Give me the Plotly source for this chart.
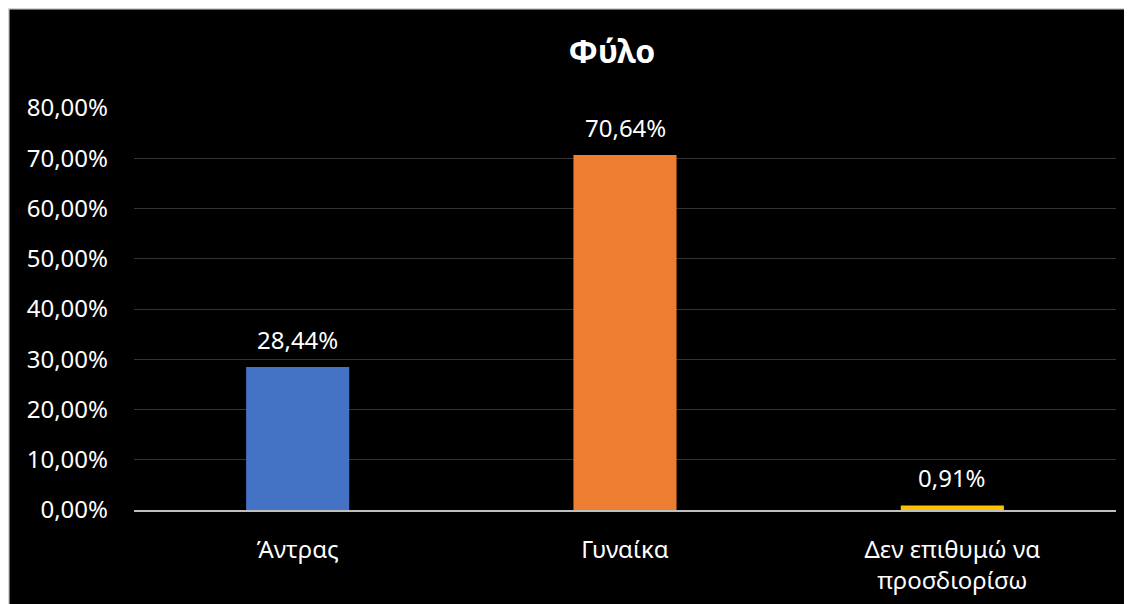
import plotly.graph_objects as go

categories = ["Άντρας", "Γυναίκα", "Δεν επιθυμώ να<br>προσδιορίσω"]
values = [28.44, 70.64, 0.91]
bar_colors = ["#4472C4", "#ED7D31", "#FFC000"]
tick_values = [0, 10, 20, 30, 40, 50, 60, 70, 80]
title_text = "Φύλο"

FONT = "Noto Sans"
W, H = 1132, 604
L, R, T, B = 126, 24, 100, 102
pw, ph = W - L - R, H - T - B

def px_x(x):
    return (x - L) / pw

def px_y(y):
    return (H - B - y) / ph

fig = go.Figure()
fig.add_trace(go.Bar(
    x=categories, y=values, marker=dict(color=bar_colors, line=dict(width=0)),
    width=0.315, hoverinfo="skip",
))

for c, v in zip(categories, values):
    fig.add_annotation(
        x=c, y=v, xref="x", yref="y", text=f"{v:.2f}%".replace(".", ","),
        showarrow=False, yanchor="middle", yshift=28,
        font=dict(family=FONT, size=24, color="#ffffff"),
    )

fig.update_layout(
    width=W, height=H,
    margin=dict(l=L, r=R, t=T, b=B, pad=0),
    paper_bgcolor="#000000", plot_bgcolor="#000000",
    separators=", ",
    showlegend=False,
    title=dict(text=f"<b>{title_text}</b>", x=604 / W, xanchor="center",
               y=1 - 44 / H, yanchor="middle",
               font=dict(family=FONT, size=32, color="#ffffff")),
    shapes=[dict(type="path", xref="paper", yref="paper",
                 path=f"M {px_x(0.5)},{px_y(H + 10)} L {px_x(0.5)},{px_y(0.5)} L {px_x(W + 10)},{px_y(0.5)}",
                 line=dict(color="#d4d4d4", width=2), layer="below")],
    font=dict(family=FONT, color="#ffffff"),
)
fig.update_xaxes(
    showgrid=False, showline=True, linecolor="#bfbfbf", linewidth=2,
    ticks="", tickfont=dict(family=FONT, size=24, color="#ffffff"),
    ticklabelstandoff=17, zeroline=False, automargin=False,
)
fig.update_yaxes(
    range=[0, 80], tickvals=tick_values, ticktext=[f"{t:.2f}%".replace(".", ",") for t in tick_values],
    showgrid=True, gridcolor="#333333", gridwidth=1, zeroline=False, showline=False,
    tickfont=dict(family=FONT, size=24, color="#ffffff"), ticklabelstandoff=25, automargin=False,
)
fig.write_html("out.html", post_script="document.documentElement.style.overflow='hidden';")
